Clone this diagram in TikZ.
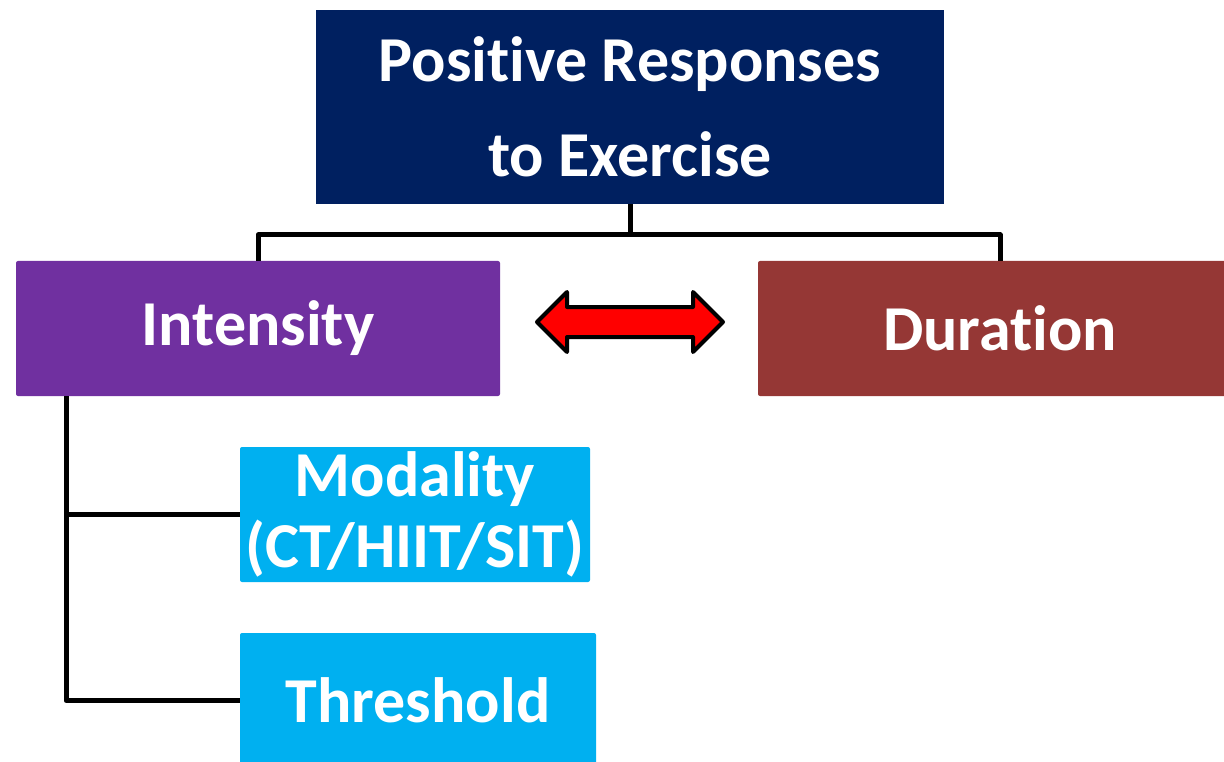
\documentclass[tikz,border=0pt]{standalone}
\usepackage{fontspec}
\setmainfont{Carlito}[Ligatures=NoCommon]
\definecolor{navy}{HTML}{002060}
\definecolor{purp}{HTML}{7030A0}
\definecolor{brownred}{HTML}{953735}
\definecolor{cyanbox}{HTML}{00B0F0}
\begin{document}
\begin{tikzpicture}[x=1pt,y=-1pt,
  box/.style={rectangle, rounded corners=2pt, inner sep=0pt, text=white, align=center, font=\fontsize{64}{71}\selectfont\bfseries},
  conn/.style={line width=5pt, black, line join=round}]
\useasboundingbox (0,0) rectangle (1224,762);
\node[box, fill=navy, rounded corners=0pt, minimum width=628pt, minimum height=194pt, font=\fontsize{64}{95}\selectfont\bfseries] (top) at (630,107) {Positive Responses\\to Exercise};
\node[box, fill=purp, minimum width=484pt, minimum height=135pt] (int) at (258,328.5) {Intensity};
\node[box, fill=brownred, minimum width=484pt, minimum height=135pt] (dur) at (1000,328.5) {Duration};
\node[box, fill=cyanbox, minimum width=350pt, minimum height=135pt] (mod) at (415,514.5) {Modality\\(CT/HIIT/SIT)};
\node[box, fill=cyanbox, minimum width=356pt, minimum height=135pt] (thr) at (418,700.5) {Threshold};
\coordinate (bus) at (630,235);
\draw[conn] (top.south) -- (bus);
\draw[conn] (bus) -| (int.north);
\draw[conn] (bus) -| (dur.north);
\coordinate (stem) at (66,396);
\draw[conn] (stem) |- (mod.west);
\draw[conn] (stem) |- (thr.west);
\draw[line width=4pt, line join=round, fill=red] (537,322) -- (567,292) -- (567,307) -- (693,307) -- (693,292) -- (723,322) -- (693,352) -- (693,337) -- (567,337) -- (567,352) -- cycle;
\end{tikzpicture}
\end{document}
